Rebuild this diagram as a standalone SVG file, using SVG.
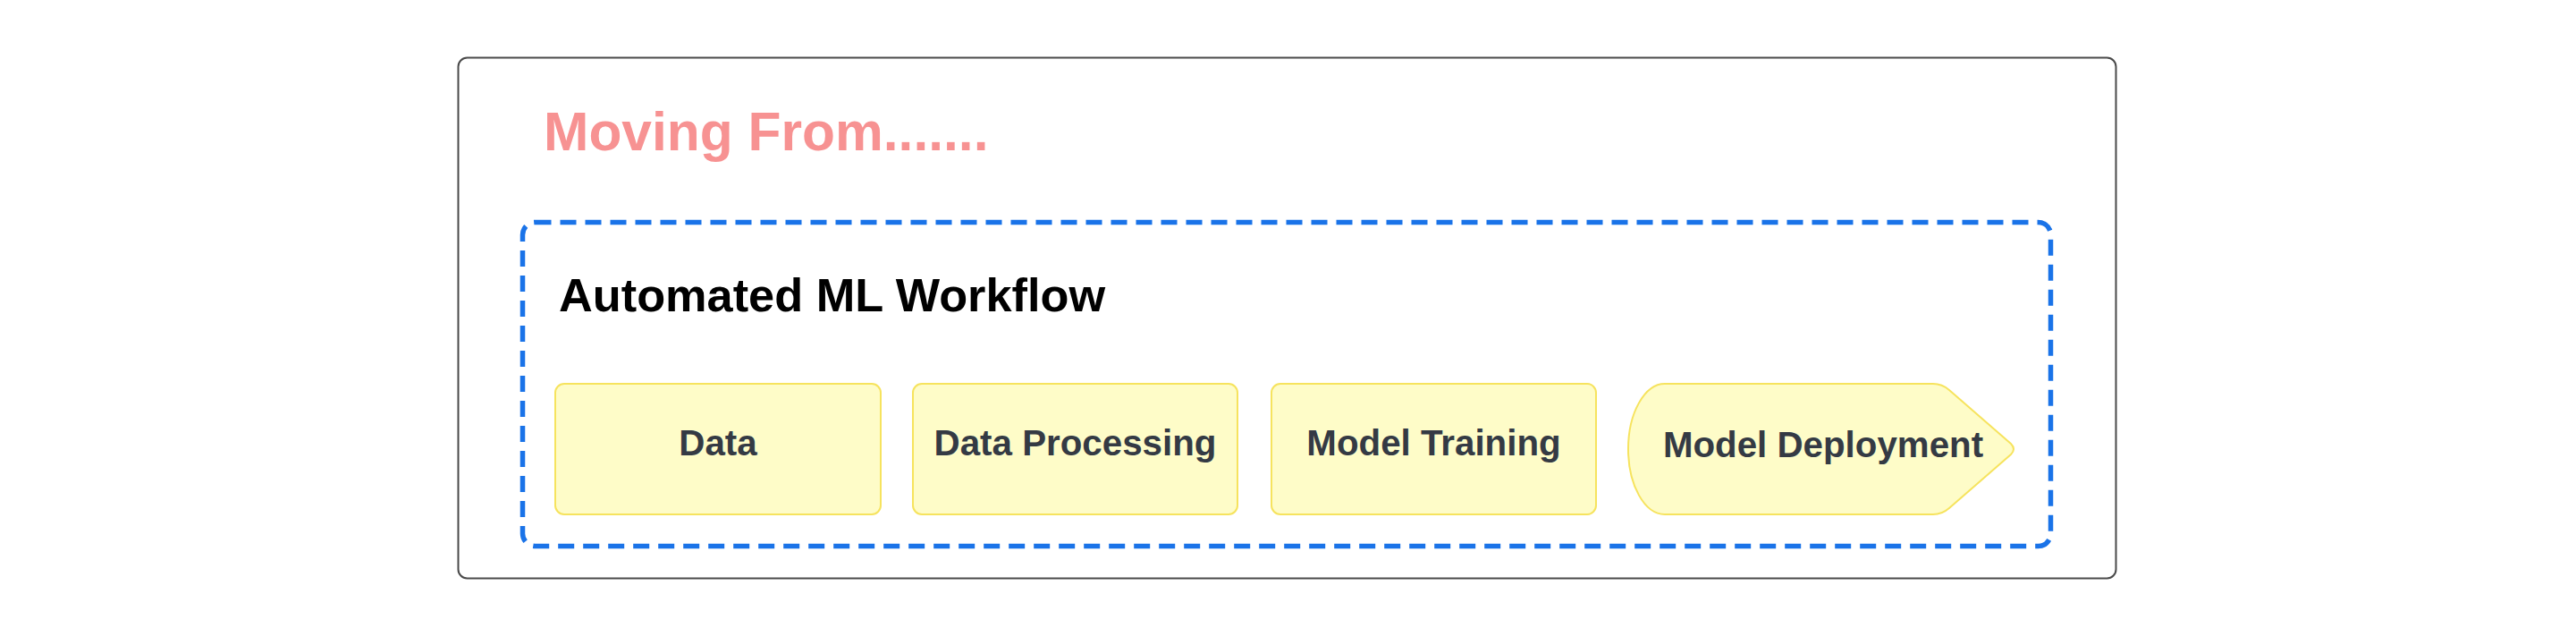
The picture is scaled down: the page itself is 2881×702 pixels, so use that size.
<svg xmlns="http://www.w3.org/2000/svg" width="2881" height="702" viewBox="0 0 2881 702">
  <style>
    .frame { fill: #ffffff; stroke: #4a4a4a; stroke-width: 2; }
    .group { fill: none; stroke: #1a73e8; stroke-width: 5.5; stroke-dasharray: 18 10; }
    .step { fill: #fefcc8; stroke: #f6e35e; stroke-width: 2; }
    .title { font-family: "Liberation Sans", Arial, sans-serif; font-weight: bold; font-size: 60.5px; fill: #f79292; }
    .heading { font-family: "Liberation Sans", Arial, sans-serif; font-weight: bold; font-size: 52.3px; fill: #000000; }
    .label { font-family: "Liberation Sans", Arial, sans-serif; font-weight: bold; font-size: 40.3px; fill: #343a44; text-anchor: middle; }
  </style>
  <rect width="2881" height="702" fill="#ffffff"/>
  <g id="outer-frame">
    <rect class="frame" x="512.5" y="64.5" width="1854" height="582" rx="10"/>
    <text class="title" x="608" y="168">Moving From.......</text>
  </g>
  <g id="workflow-group">
    <rect class="group" x="584.5" y="248.5" width="1709" height="362" rx="14"/>
    <text class="heading" x="625" y="348">Automated ML Workflow</text>
  </g>
  <g id="node-data">
    <rect class="step" x="621" y="429" width="364" height="146" rx="10"/>
    <text class="label" x="803" y="509">Data</text>
  </g>
  <g id="node-data-processing">
    <rect class="step" x="1021" y="429" width="363" height="146" rx="10"/>
    <text class="label" x="1202.5" y="509">Data Processing</text>
  </g>
  <g id="node-model-training">
    <rect class="step" x="1422" y="429" width="363" height="146" rx="10"/>
    <text class="label" x="1603.5" y="509">Model Training</text>
  </g>
  <g id="node-model-deployment">
    <path class="step" d="M 1862 429 L 2162 429 Q 2172 429 2180 436 L 2249 496 Q 2255 502 2249 508 L 2180 568 Q 2172 575 2162 575 L 1862 575 A 41 73 0 0 1 1862 429 Z"/>
    <text class="label" x="2039" y="511">Model Deployment</text>
  </g>
  <g id="connectors"></g>
</svg>
